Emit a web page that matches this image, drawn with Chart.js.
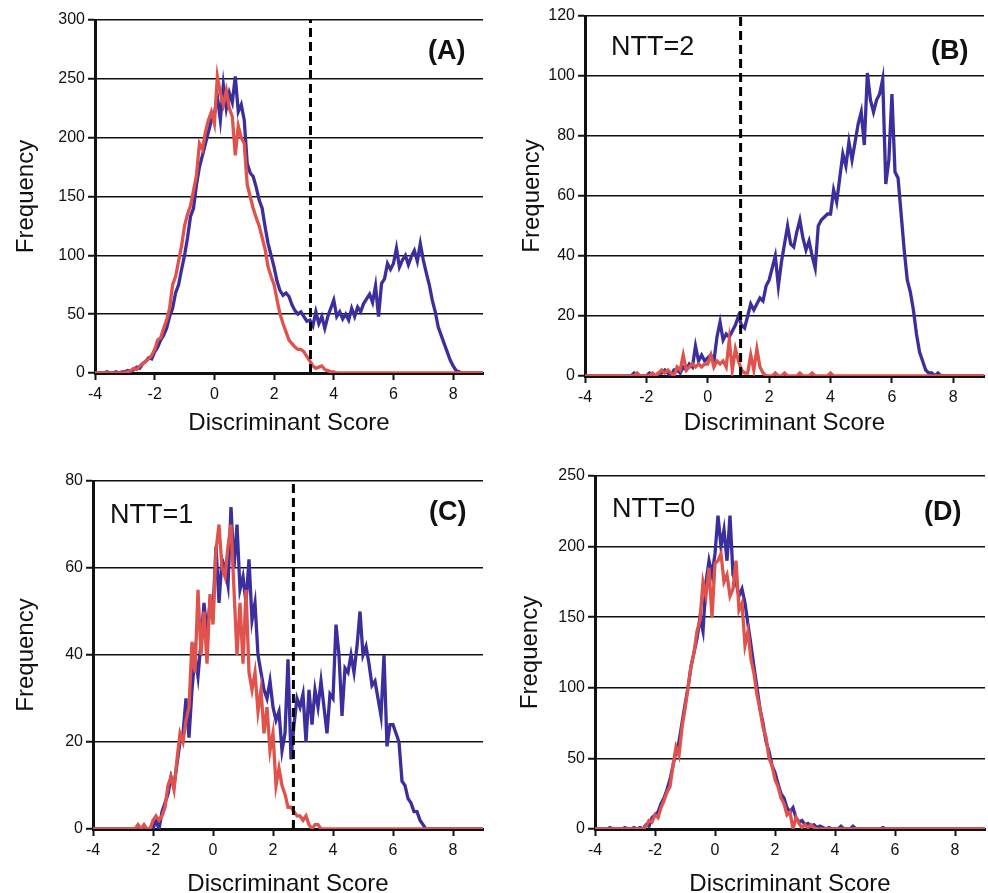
<!DOCTYPE html>
<html>
<head>
<meta charset="utf-8">
<script src="https://cdn.jsdelivr.net/npm/chart.js@4.4.1/dist/chart.umd.min.js"></script>
<style>
  html, body { margin: 0; padding: 0; background: #fff; }
  body { width: 988px; height: 893px; position: relative; overflow: hidden; font-family: "Liberation Sans", Arial, sans-serif; }
  .panel { position: absolute; }
  .lbl { position: absolute; color: #111; white-space: nowrap; line-height: 1; }
  .tag { font-weight: bold; font-size: 27px; }
  .ntt { font-size: 27px; }
</style>
</head>
<body>
<div class="panel" style="left:0;top:0"><canvas id="cA" width="494" height="446"></canvas></div>
<div class="panel" style="left:494px;top:0"><canvas id="cB" width="494" height="446"></canvas></div>
<div class="panel" style="left:0;top:446px"><canvas id="cC" width="494" height="447"></canvas></div>
<div class="panel" style="left:494px;top:446px"><canvas id="cD" width="494" height="447"></canvas></div>

<div class="lbl tag" style="left:428px;top:37px">(A)</div>
<div class="lbl ntt" style="left:611px;top:33px">NTT=2</div>
<div class="lbl tag" style="left:931px;top:37px">(B)</div>
<div class="lbl ntt" style="left:110px;top:501px">NTT=1</div>
<div class="lbl tag" style="left:429px;top:498px">(C)</div>
<div class="lbl ntt" style="left:612px;top:495px">NTT=0</div>
<div class="lbl tag" style="left:924px;top:498px">(D)</div>

<script>
// Bin centres of the discriminant-score histograms (-4.0 ... 9.0, width 0.1)
const scoreBins = Array.from({length: 131}, (_, i) => Math.round((-4 + i * 0.1) * 10) / 10);
const xTickValues = [-4, -2, 0, 2, 4, 6, 8];

// Panel A (all)
const aBlue = [
  0,0,0,0,1,0,0,1,0,1,
  1,2,1,3,5,4,8,10,13,12,
  18,22,28,32,38,48,55,68,75,88,
  100,115,133,140,160,175,185,195,205,215,
  220,235,215,245,225,238,230,252,222,228,
  215,178,170,167,158,147,140,124,110,100,
  90,78,70,66,68,65,58,53,50,52,
  48,44,45,40,52,42,48,38,48,55,
  62,48,52,46,50,45,55,48,56,52,
  59,63,67,60,74,48,76,80,93,88,
  93,106,90,96,100,92,99,104,95,110,
  96,85,75,62,52,39,32,25,18,11,
  6,2,1,0,0,0,0,0,0,0,
  0
];
const aRed = [
  0,0,0,0,0,0,0,0,0,0,
  0,1,2,4,3,6,8,10,12,15,
  20,28,30,38,45,55,75,82,95,108,
  125,135,142,155,168,195,190,205,215,222,
  212,252,238,228,240,225,218,185,210,200,
  195,160,150,140,132,125,115,105,90,82,
  75,62,50,42,35,28,25,22,20,20,
  18,14,10,6,4,5,6,3,2,1,
  1,0,0,0,0,0,0,0,0,0,
  0,0,0,0,0,0,0,0,0,0,
  0,0,0,0,0,0,0,0,0,0,
  0,0,0,0,0,0,0,0,0,0,
  0,0,0,0,0,0,0,0,0,0,
  0
];
// Panel B (NTT=2)
const bBlue = [
  0,0,0,0,0,0,0,0,0,0,
  0,0,0,0,0,0,1,0,0,0,
  0,1,0,0,1,1,2,1,0,2,
  2,1,3,2,4,3,10,5,7,5,
  6,7,5,13,18,12,14,13,15,17,
  20,17,16,20,24,22,24,26,25,30,
  32,36,40,30,38,44,50,44,43,48,
  52,46,42,45,40,36,50,52,53,54,
  54,62,58,66,74,70,78,72,78,84,
  88,77,101,92,88,92,94,99,64,72,
  94,68,66,54,42,32,28,22,14,8,
  5,2,1,1,0,1,0,0,0,0,
  0,0,0,0,0,0,0,0,0,0,
  0
];
const bRed = [
  0,0,0,0,0,0,0,0,0,0,
  0,0,0,0,0,0,0,1,0,0,
  0,0,1,0,1,2,1,2,1,0,
  3,2,7,2,3,4,3,4,3,4,
  4,7,3,5,4,5,3,12,2,9,
  5,2,1,1,7,2,9,3,1,0,
  0,0,1,0,0,1,0,0,0,0,
  1,0,0,0,1,0,0,0,0,0,
  1,0,0,0,0,0,0,0,0,0,
  0,0,0,0,0,0,0,0,0,0,
  0,0,0,0,0,0,0,0,0,0,
  0,0,0,0,0,0,0,0,0,0,
  0,0,0,0,0,0,0,0,0,0,
  0
];
// Panel C (NTT=1)
const cBlue = [
  0,0,0,0,0,0,0,0,0,0,
  0,0,0,0,0,0,0,0,0,0,
  0,2,0,4,6,8,12,10,15,20,
  22,30,21,32,40,35,43,52,45,52,
  50,65,52,62,60,56,74,60,70,55,
  58,52,62,48,52,40,36,32,30,34,
  28,25,27,18,22,39,16,24,30,28,
  31,20,32,24,32,28,34,28,22,31,
  30,47,40,26,37,36,40,36,42,50,
  40,42,38,33,34,30,26,40,19,24,
  24,22,20,11,10,7,6,4,4,2,
  1,0,0,0,0,0,0,0,0,0,
  0,0,0,0,0,0,0,0,0,0,
  0
];
const cRed = [
  0,0,0,0,0,0,0,0,0,0,
  0,0,0,0,0,1,0,1,0,0,
  2,3,2,3,5,10,12,9,16,22,
  20,25,28,43,36,55,40,50,38,54,
  47,64,70,60,58,65,70,55,40,52,
  38,55,36,32,36,27,32,22,28,18,
  22,10,14,10,8,5,5,4,3,3,
  2,3,1,0,1,1,0,0,0,0,
  0,0,0,0,0,0,0,0,0,0,
  0,0,0,0,0,0,0,0,0,0,
  0,0,0,0,0,0,0,0,0,0,
  0,0,0,0,0,0,0,0,0,0,
  0,0,0,0,0,0,0,0,0,0,
  0
];
// Panel D (NTT=0)
const dBlue = [
  0,0,0,0,0,1,0,0,0,0,
  1,0,0,1,0,1,0,3,2,8,
  10,12,18,22,28,35,45,55,62,75,
  88,100,115,125,135,150,140,175,190,180,
  195,222,200,212,190,222,180,175,165,170,
  160,145,130,115,100,85,75,62,55,45,
  40,32,25,22,15,12,15,8,5,6,
  3,4,2,3,1,2,1,0,1,0,
  0,0,2,0,0,0,2,0,0,0,
  0,0,0,0,0,0,1,0,0,0,
  0,0,0,0,0,0,0,0,0,0,
  0,0,0,0,0,0,0,0,0,0,
  0,0,0,0,0,0,0,0,0,0,
  0
];
const dRed = [
  0,0,0,0,0,0,0,0,0,0,
  0,0,0,0,0,0,0,2,6,5,
  10,8,15,20,26,30,45,58,52,72,
  85,100,115,125,140,148,175,165,185,150,
  188,190,195,175,180,165,170,190,155,160,
  130,140,120,110,95,85,72,65,50,45,
  35,30,22,18,10,12,0,8,4,1,
  3,1,3,1,0,0,0,0,0,0,
  0,0,0,0,0,0,0,0,0,0,
  0,0,0,0,0,0,0,0,0,0,
  0,0,0,0,0,0,0,0,0,0,
  0,0,0,0,0,0,0,0,0,0,
  0,0,0,0,0,0,0,0,0,0,
  0
];

// Axis maxima / steps and cut-off scores
const yMaxes = [300, 120, 80, 250];
const ySteps = [50, 20, 20, 50];
const cutoffs = [3.22, 1.07, 2.68, null];

const BLUE = '#3b2f9d';
const RED = '#e0524c';
const FONT = '"Liberation Sans", Arial, Helvetica, sans-serif';

function pts(values) {
  return values.map((v, i) => ({x: scoreBins[i], y: v}));
}

function makePanel(id, blue, red, yMax, yStep, cutoff, geom) {
  const datasets = [
    {data: pts(red), borderColor: RED, borderWidth: 3.3, pointRadius: 0, tension: 0, order: 1, fill: false},
    {data: pts(blue), borderColor: BLUE, borderWidth: 3.3, pointRadius: 0, tension: 0, order: 2, fill: false}
  ];
  if (cutoff !== null) {
    datasets.push({data: [{x: cutoff, y: 0}, {x: cutoff, y: yMax}], borderColor: '#000', borderWidth: 3,
      borderDash: [9, 5], pointRadius: 0, order: 0, fill: false});
  }
  new Chart(document.getElementById(id), {
    type: 'line',
    data: {datasets},
    options: {
      responsive: false,
      animation: false,
      devicePixelRatio: 1,
      layout: {padding: {top: geom.top, right: geom.right, left: 0, bottom: 0}},
      plugins: {legend: {display: false}, tooltip: {enabled: false}},
      scales: {
        x: {
          type: 'linear', min: -4, max: 9,
          afterBuildTicks: s => { s.ticks = xTickValues.map(v => ({value: v})); },
          afterFit: s => { s.height = geom.xh; },
          grid: {drawOnChartArea: false, drawTicks: true, tickLength: 7, tickWidth: 2, tickColor: '#111'},
          border: {display: true, color: '#111', width: 3},
          ticks: {font: {family: FONT, size: 16}, color: '#111', padding: 5, maxRotation: 0, autoSkip: false},
          title: {display: true, text: 'Discriminant Score', font: {family: FONT, size: 24}, color: '#111',
                  padding: {top: 0, bottom: geom.xtb}}
        },
        y: {
          type: 'linear', min: 0, max: yMax,
          ticks: {stepSize: yStep, font: {family: FONT, size: 16}, color: '#111', padding: 3},
          afterFit: s => { s.width = geom.yw; },
          grid: {color: '#111', lineWidth: 1.5, drawTicks: true, tickLength: 7, tickWidth: 2, tickColor: '#111'},
          border: {display: true, color: '#111', width: 3},
          title: {display: true, text: 'Frequency', font: {family: FONT, size: 24}, color: '#111',
                  padding: {top: geom.ytp, bottom: 0}}
        }
      }
    }
  });
}

makePanel('cA', aBlue, aRed, yMaxes[0], ySteps[0], cutoffs[0], {top: 20, right: 11, xh: 73, yw: 95, xtb: 8, ytp: 12});
makePanel('cB', bBlue, bRed, yMaxes[1], ySteps[1], cutoffs[1], {top: 16, right: 4, xh: 70, yw: 91, xtb: 8, ytp: 24});
makePanel('cC', cBlue, cRed, yMaxes[2], ySteps[2], cutoffs[2], {top: 35, right: 11, xh: 64, yw: 93, xtb: -6, ytp: 12});
makePanel('cD', dBlue, dRed, yMaxes[3], ySteps[3], cutoffs[3], {top: 30, right: 3, xh: 64, yw: 101, xtb: -6, ytp: 22});
</script>
</body>
</html>
